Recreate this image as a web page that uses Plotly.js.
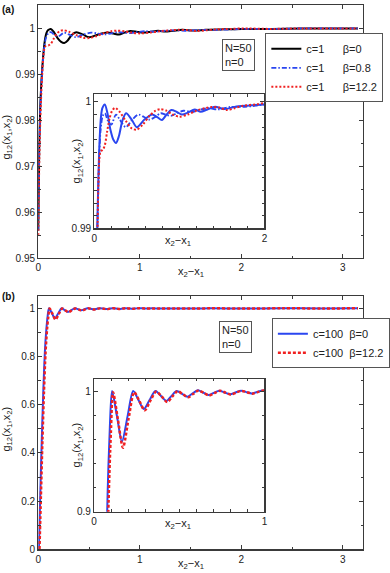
<!DOCTYPE html>
<html>
<head>
<meta charset="utf-8">
<script src="https://cdn.plot.ly/plotly-3.0.1.min.js"></script>
<style>
  html, body { margin: 0; padding: 0; background: #fff; }
  #chart { width: 390px; height: 573px; }
</style>
</head>
<body>
<div id="chart"></div>
<script>
/* g12 correlation, N=50 n=0 — two panels with insets */

// panel (a): c=1, three beta values
const A_B0_X = [0, 0.01, 0.02, 0.03, 0.04, 0.05, 0.06, 0.07, 0.08, 0.095, 0.124, 0.155, 0.19, 0.225, 0.256, 0.29, 0.33, 0.374, 0.44, 0.50, 0.59, 0.68, 0.74, 0.795, 0.85, 0.905, 0.97, 1.03, 1.1, 1.18, 1.25, 1.33, 1.42, 1.53, 1.65, 1.8, 2.0, 2.3, 2.6, 2.9, 3.15];
const A_B0_Y = [0.956, 0.975, 0.983, 0.988, 0.9915, 0.9943, 0.9965, 0.998, 0.9989, 0.9995, 0.9998, 0.9991, 0.9978, 0.997, 0.99675, 0.9973, 0.9985, 0.9991, 0.9986, 0.998, 0.9986, 0.999, 0.9988, 0.99857, 0.999, 0.99935, 0.9992, 0.999, 0.99915, 0.9994, 0.99922, 0.9994, 0.99961, 0.99943, 0.9996, 0.9997, 0.9998, 0.9998, 0.9999, 0.9999, 0.9999];

const A_B08_X = [0, 0.01, 0.02, 0.03, 0.04, 0.05, 0.06, 0.075, 0.1, 0.125, 0.16, 0.2, 0.255, 0.30, 0.37, 0.447, 0.52, 0.585, 0.65, 0.715, 0.78, 0.84, 0.9, 0.97, 1.05, 1.15, 1.25, 1.35, 1.45, 1.6, 1.75, 1.9, 2.0, 2.3, 2.6, 2.9, 3.15];
const A_B08_Y = [0.956, 0.974, 0.9825, 0.9875, 0.991, 0.9938, 0.996, 0.9978, 0.9989, 0.9991, 0.9985, 0.9982, 0.999, 0.9986, 0.998, 0.9986, 0.999, 0.9988, 0.9986, 0.9988, 0.9991, 0.999, 0.9989, 0.9991, 0.9993, 0.9992, 0.9994, 0.9995, 0.9994, 0.9996, 0.9996, 0.9997, 0.9998, 0.9998, 0.9999, 0.9999, 0.9999];

const A_B122_X = [0, 0.01, 0.02, 0.03, 0.04, 0.05, 0.06, 0.075, 0.1, 0.125, 0.15, 0.18, 0.21, 0.245, 0.3, 0.37, 0.44, 0.5, 0.57, 0.65, 0.72, 0.777, 0.85, 0.92, 1.0, 1.1, 1.2, 1.3, 1.38, 1.47, 1.56, 1.65, 1.75, 1.9, 2.0, 2.3, 2.6, 2.9, 3.15];
const A_B122_Y = [0.955, 0.971, 0.98, 0.986, 0.9905, 0.9938, 0.9955, 0.9961, 0.9962, 0.9966, 0.9976, 0.9987, 0.9993, 0.99953, 0.9992, 0.9985, 0.9979, 0.9978, 0.9982, 0.9989, 0.9993, 0.99943, 0.9993, 0.999, 0.99883, 0.999, 0.9993, 0.9995, 0.9996, 0.99955, 0.99935, 0.9995, 0.9997, 0.9998, 0.9999, 0.9998, 0.9999, 0.9999, 0.9999];

// panel (b): c=100, beta 0 and 12.2
const B_B0_X = [0.006, 0.02, 0.035, 0.05, 0.065, 0.08, 0.093, 0.106, 0.135, 0.164, 0.197, 0.23, 0.261, 0.292, 0.326, 0.36, 0.392, 0.425, 0.455, 0.485, 0.517, 0.548, 0.579, 0.61, 0.641, 0.672, 0.703, 0.735, 0.767, 0.80, 0.83, 0.863, 0.894, 0.925, 0.957, 0.99, 1.05, 1.12, 1.2, 1.35, 1.5, 1.7, 2.0, 2.4, 2.8, 3.15];
const B_B0_Y = [0, 0.23, 0.46, 0.66, 0.82, 0.915, 0.97, 1.0, 0.979, 0.958, 0.979, 1.0, 0.9925, 0.985, 0.9925, 1.0, 0.996, 0.9917, 0.996, 1.0, 0.9977, 0.9953, 0.998, 1.0006, 0.9986, 0.9967, 0.9985, 1.0003, 0.9988, 0.9973, 0.9988, 1.0002, 0.9991, 0.998, 0.9992, 1.0005, 0.999, 0.9997, 0.9992, 0.9996, 0.9993, 0.9997, 0.9995, 0.9997, 0.9996, 0.9997];

const B_B122_X = [0.012, 0.026, 0.041, 0.056, 0.071, 0.086, 0.099, 0.112, 0.141, 0.17, 0.203, 0.236, 0.267, 0.298, 0.331, 0.365, 0.397, 0.43, 0.46, 0.49, 0.521, 0.552, 0.583, 0.614, 0.645, 0.676, 0.707, 0.739, 0.771, 0.804, 0.834, 0.867, 0.898, 0.929, 0.961, 0.994, 1.05, 1.12, 1.2, 1.35, 1.5, 1.7, 2.0, 2.4, 2.8, 3.15];
const B_B122_Y = [0, 0.22, 0.45, 0.65, 0.81, 0.91, 0.965, 0.999, 0.976, 0.953, 0.977, 0.999, 0.9915, 0.984, 0.992, 0.9995, 0.9955, 0.9908, 0.9955, 0.9998, 0.9974, 0.9948, 0.9977, 1.0004, 0.9984, 0.9963, 0.9983, 1.0002, 0.9987, 0.997, 0.9987, 1.0001, 0.999, 0.9978, 0.9991, 1.0004, 0.999, 0.9996, 0.9992, 0.9996, 0.9993, 0.9997, 0.9995, 0.9997, 0.9996, 0.9997];

// legend names
const NAMES_A = ["c=1\u00a0\u00a0\u00a0\u00a0\u00a0\u00a0β=0", "c=1\u00a0\u00a0\u00a0\u00a0\u00a0\u00a0β=0.8", "c=1\u00a0\u00a0\u00a0\u00a0\u00a0\u00a0β=12.2"];
const NAMES_B = ["c=100\u00a0\u00a0β=0", "c=100\u00a0\u00a0β=12.2"];

// tick labels
const MAIN_XTICKS = [0, 1, 2, 3];
const MAIN_XLABELS = ["0", "1", "2", "3"];
const A_YTICKS = [0.95, 0.96, 0.97, 0.98, 0.99, 1];
const A_YLABELS = ["0.95", "0.96", "0.97", "0.98", "0.99", "1"];
const B_YTICKS = [0, 0.2, 0.4, 0.6, 0.8, 1];
const B_YLABELS = ["0", "0.2", "0.4", "0.6", "0.8", "1"];
const INA_XTICKS = [0, 2], INA_XLABELS = ["0", "2"];
const INA_YTICKS = [0.99, 1], INA_YLABELS = ["0.99", "1"];
const INB_XTICKS = [0, 1], INB_XLABELS = ["0", "1"];
const INB_YTICKS = [0.9, 1], INB_YLABELS = ["0.9", "1"];

(function () {
  const W = 390, H = 573;
  const FONT = "Liberation Sans, Arial, Helvetica, sans-serif";
  const BLUE = "#2a46f0", RED = "#f02020", AXC = "#3a3a3a";
  const px = v => v / W, py = v => 1 - v / H;

  function axis(dom, anchor, range, tv, tt, minor, tick0) {
    return {
      domain: dom, anchor, range, tickmode: "array", tickvals: tv, ticktext: tt,
      ticks: "inside", ticklen: 4, tickcolor: AXC, tickwidth: 1,
      minor: { dtick: minor, tick0: tick0, ticks: "inside", ticklen: 2.5, tickcolor: AXC, showgrid: false },
      showline: true, linecolor: AXC, linewidth: 1.2, mirror: "ticks",
      showgrid: false, zeroline: false, fixedrange: true,
      tickfont: { size: 10, color: "#222" },
    };
  }

  const spl = { shape: "spline", smoothing: 0.8 };
  const ln = (o) => Object.assign({}, spl, o);

  const traces = [
    // (a) main
    { x: A_B0_X, y: A_B0_Y, name: NAMES_A[0], xaxis: "x", yaxis: "y", legend: "legend",
      mode: "lines", line: ln({ color: "#000", width: 2 }) },
    { x: A_B08_X, y: A_B08_Y, name: NAMES_A[1], xaxis: "x", yaxis: "y", legend: "legend",
      mode: "lines", line: ln({ color: BLUE, width: 1.8, dash: "5px,2px,1.5px,2px" }) },
    { x: A_B122_X, y: A_B122_Y, name: NAMES_A[2], xaxis: "x", yaxis: "y", legend: "legend",
      mode: "lines", line: ln({ color: RED, width: 2, dash: "2px,2px" }) },
    // (a) inset
    { x: A_B0_X, y: A_B0_Y, xaxis: "x2", yaxis: "y2", showlegend: false,
      mode: "lines", line: ln({ color: BLUE, width: 2 }) },
    { x: A_B08_X, y: A_B08_Y, xaxis: "x2", yaxis: "y2", showlegend: false,
      mode: "lines", line: ln({ color: BLUE, width: 1.8, dash: "5px,2px,1.5px,2px" }) },
    { x: A_B122_X, y: A_B122_Y, xaxis: "x2", yaxis: "y2", showlegend: false,
      mode: "lines", line: ln({ color: RED, width: 2, dash: "2px,2px" }) },
    // (b) main
    { x: B_B0_X, y: B_B0_Y, name: NAMES_B[0], xaxis: "x3", yaxis: "y3", legend: "legend2",
      mode: "lines", line: ln({ color: BLUE, width: 2 }) },
    { x: B_B122_X, y: B_B122_Y, name: NAMES_B[1], xaxis: "x3", yaxis: "y3", legend: "legend2",
      mode: "lines", line: ln({ color: RED, width: 2.5, dash: "3px,2px" }) },
    // (b) inset
    { x: B_B0_X, y: B_B0_Y, xaxis: "x4", yaxis: "y4", showlegend: false,
      mode: "lines", line: ln({ color: BLUE, width: 2 }) },
    { x: B_B122_X, y: B_B122_Y, xaxis: "x4", yaxis: "y4", showlegend: false,
      mode: "lines", line: ln({ color: RED, width: 2.5, dash: "3px,2px" }) },
  ];

  const mainX = [px(41), px(389)];
  const insetX = [px(101), px(283.3)];

  const ann = (x, y, text, extra) => Object.assign({
    xref: "paper", yref: "paper", x: px(x), y: py(y), text, showarrow: false,
    xanchor: "center", yanchor: "middle",
    font: { size: 11, color: "#222" },
  }, extra || {});
  const G = "g<sub>12</sub>(x<sub>1</sub>,x<sub>2</sub>)";
  const DX = "x<sub>2</sub>−x<sub>1</sub>";
  const box = { xanchor: "left", yanchor: "top", align: "left", bordercolor: "#555",
    borderwidth: 1, borderpad: 2, bgcolor: "#fff" };

  const layout = {
    width: W, height: H, margin: { l: 0, r: 0, t: 0, b: 0 },
    paper_bgcolor: "#fff", plot_bgcolor: "#fff",
    font: { family: FONT, size: 11, color: "#222" },
    xaxis: axis(mainX, "y", [0, 3.2], MAIN_XTICKS, MAIN_XLABELS, 0.5, 0),
    yaxis: axis([py(258), py(5)], "x", [0.95, 1.005], A_YTICKS, A_YLABELS, 0.005, 0.95),
    xaxis2: axis(insetX, "y2", [0, 2], INA_XTICKS, INA_XLABELS, 0.2, 0),
    yaxis2: axis([py(228.3), py(94.3)], "x2", [0.99, 1.0006], INA_YTICKS, INA_YLABELS, 0.001, 0.99),
    xaxis3: axis(mainX, "y3", [0, 3.2], MAIN_XTICKS, MAIN_XLABELS, 0.5, 0),
    yaxis3: axis([py(549.3), py(296)], "x3", [0, 1.051], B_YTICKS, B_YLABELS, 0.1, 0),
    xaxis4: axis([px(100.7), px(283.3)], "y4", [0, 1], INB_XTICKS, INB_XLABELS, 0.1, 0),
    yaxis4: axis([py(511.7), py(378.7)], "x4", [0.9, 1.0102], INB_YTICKS, INB_YLABELS, 0.02, 0.9),
    legend: {
      x: px(284.3), y: py(33.3), xanchor: "left", yanchor: "top",
      bordercolor: "#555", borderwidth: 1, bgcolor: "#fff",
      font: { size: 11, color: "#222" }, itemwidth: 30, tracegroupgap: 0,
    },
    legend2: {
      x: px(291.3), y: py(318.3), xanchor: "left", yanchor: "top",
      bordercolor: "#555", borderwidth: 1, bgcolor: "#fff",
      font: { size: 11, color: "#222" }, itemwidth: 30, tracegroupgap: 0,
    },
    annotations: [
      ann(0, 2, "<b>(a)</b>", { xanchor: "left", yanchor: "top", font: { size: 10, color: "#111" } }),
      ann(0, 289, "<b>(b)</b>", { xanchor: "left", yanchor: "top", font: { size: 10, color: "#111" } }),
      ann(237.7, 38.7, "N=50<br>n=0", box),
      ann(234.3, 321.3, "N=50<br>n=0", box),
      ann(7, 137, G, { textangle: -90 }),
      ann(7, 429, G, { textangle: -90 }),
      ann(83, 161, G, { textangle: -90 }),
      ann(83, 445, G, { textangle: -90 }),
      ann(205, 272, DX),
      ann(205, 564, DX),
      ann(191, 241, DX),
      ann(191, 524, DX),
    ],
  };

  Plotly.newPlot("chart", traces, layout, { displayModeBar: false, staticPlot: true });
})();
</script>
</body>
</html>
